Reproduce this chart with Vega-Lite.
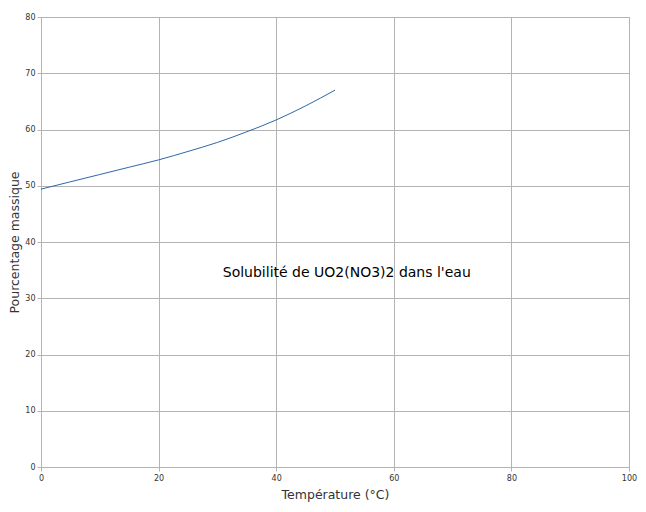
{
  "$schema": "https://vega.github.io/schema/vega-lite/v6.json",
  "width": 588,
  "height": 450,
  "autosize": {"type": "none"},
  "padding": {"left": 41, "top": 17, "right": 17, "bottom": 45},
  "background": "white",
  "config": {
    "view": {"stroke": "#b3b3b3", "strokeWidth": 1},
    "axis": {
      "gridColor": "#b3b3b3",
      "gridOpacity": 1,
      "domainColor": "#b3b3b3",
      "tickColor": "#b3b3b3",
      "tickSize": 4,
      "labelFont": "DejaVu Sans",
      "labelFontSize": 8,
      "labelColor": "#333333",
      "labelFlush": false,
      "titleFont": "DejaVu Sans",
      "titleFontSize": 12.5,
      "titleFontWeight": "normal",
      "titleColor": "#333333"
    }
  },
  "layer": [
    {
      "data": {"values": [
        {"t": 0, "p": 49.4},
        {"t": 5, "p": 50.7},
        {"t": 10, "p": 52.0},
        {"t": 15, "p": 53.3},
        {"t": 20, "p": 54.6},
        {"t": 25, "p": 56.1},
        {"t": 30, "p": 57.7},
        {"t": 35, "p": 59.6},
        {"t": 40, "p": 61.7},
        {"t": 45, "p": 64.2},
        {"t": 50, "p": 67.0}
      ]},
      "mark": {"type": "line", "color": "#2f67a8", "strokeWidth": 1, "interpolate": "monotone"},
      "encoding": {
        "x": {"field": "t", "type": "quantitative", "scale": {"domain": [0, 100], "nice": false},
              "axis": {"values": [0, 20, 40, 60, 80, 100], "title": "Température (°C)", "titlePadding": 6, "labelPadding": 3, "domain": false}},
        "y": {"field": "p", "type": "quantitative", "scale": {"domain": [0, 80], "nice": false},
              "axis": {"values": [0, 10, 20, 30, 40, 50, 60, 70, 80], "title": "Pourcentage massique", "titlePadding": 3, "labelPadding": 2, "domain": false}}
      }
    },
    {
      "data": {"values": [{"t": 52, "p": 34.5, "label": "Solubilité de UO2(NO3)2 dans l'eau"}]},
      "mark": {"type": "text", "font": "DejaVu Sans", "fontSize": 14, "color": "#000000", "align": "center", "baseline": "middle"},
      "encoding": {
        "x": {"field": "t", "type": "quantitative"},
        "y": {"field": "p", "type": "quantitative"},
        "text": {"field": "label"}
      }
    }
  ]
}
